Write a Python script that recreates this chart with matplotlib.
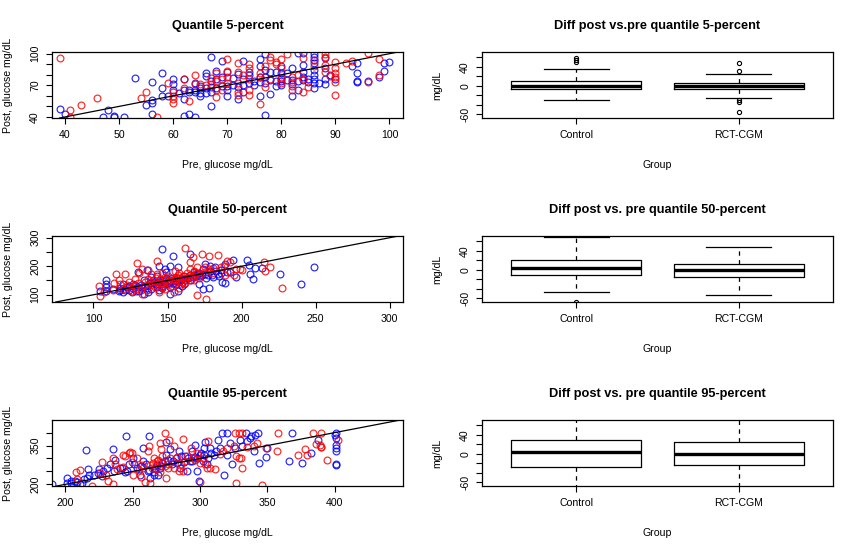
import matplotlib
matplotlib.use("Agg")
import matplotlib.pyplot as plt

plt.rcParams['font.family'] = ['Liberation Sans', 'DejaVu Sans']

# ---------------- data: quantile 5-percent ----------------
q05_red = [(39,96),(41,47),(41,40),(43,51),(46,58),(54,58),(55,64),(57,40),(59,72),(60,64),(60,60),(60,57),
           (60,53),(62,67),(62,76),(63,55),(64,80),(64,71),(65,71),(66,70),(67,77),(67,71),(68,74),(68,66),
           (68,59),(68,82),(69,66),(69,76),(70,95),(70,84),(70,78),(70,72),(72,91),(72,83),(72,72),(72,64),
           (72,61),(73,80),(74,90),(74,86),(74,76),(74,66),(74,61),(76,82),(76,78),(76,52),(77,88),(77,68),
           (78,97),(78,94),(78,76),(79,92),(79,90),(80,95),(80,86),(80,77),(80,72),(81,100),(82,78),(82,73),
           (82,69),(82,66),(83,80),(84,96),(84,76),(84,64),(85,68),(86,94),(86,88),(88,100),(88,97),(88,89),
           (88,83),(89,79),(90,92),(90,86),(90,82),(90,78),(90,73),(90,61),(92,91),(93,93),(96,101),(96,73),
           (98,95),(98,80)]
q05_blue = [(39,48),(40,43),(47,40),(48,47),(49,41),(49,40),(51,40),(53,77),(55,51),(56,56),(56,53),(56,73),
            (56,43),(58,82),(58,67),(58,60),(59,60),(60,76),(60,71),(60,66),(61,63),(62,76),(62,57),(62,41),
            (62,66),(63,43),(63,64),(63,66),(64,72),(64,64),(64,40),(64,66),(65,69),(65,60),(65,63),(65,67),
            (66,63),(66,82),(66,79),(66,67),(67,97),(67,74),(67,50),(67,68),(67,64),(68,76),(68,84),(68,67),
            (69,93),(69,78),(69,69),(70,83),(70,69),(70,60),(70,66),(71,77),(71,70),(72,81),(72,57),(72,68),
            (73,93),(73,76),(73,64),(73,70),(74,83),(74,80),(74,72),(75,70),(75,74),(76,95),(76,88),(76,73),
            (76,60),(76,78),(77,100),(77,85),(77,78),(77,72),(77,42),(78,83),(78,62),(78,75),(79,69),(79,83),
            (79,74),(80,88),(80,82),(80,76),(80,70),(80,74),(81,82),(81,75),(82,86),(82,60),(82,75),(82,71),
            (83,101),(83,66),(83,74),(84,101),(84,89),(84,83),(84,78),(84,75),(85,76),(85,73),(86,100),(86,97),
            (86,94),(86,91),(86,85),(86,80),(86,76),(86,67),(86,72),(87,72),(88,96),(88,76),(88,71),(88,86),
            (89,80),(90,76),(93,88),(94,91),(94,82),(94,73),(94,74),(96,74),(98,78),(99,84),(99,91),(100,92)]

# ---------------- data: quantile 50-percent ----------------
q50_red = [(103.6,130),(104.5,94),(107,109),(113,115),(115,173),(117,150),(121,173),(114,141),(129.7,210),
           (133,191),(137,187),(143,219),(143,173),(146,175),(162,264),(167,234),(170,98),(173,243),(176,84),
           (178,237),(184,241),(181,194),(186,196),(190,220),(199,191),(200,187),(215,214),(216,183),(219,197),
           (227,124),(128,156),(133,103),(148,162),(152,138),(154.5,109),(159,138),(165,214),(170,196),(172,173),
           (166,150),(160.5,167),(156,162),(150,167),(147,138),(141.6,127),(138,144),(134,132),(128,129),
           (122.5,133),(118,138),(120,120),(125,125),(130,140),(135,145),(140,150),(145,155),(150,150),(155,155),
           (160,160),(165,170),(170,175),(175,180),(140,135),(145,140),(150,145),(155,150),(160,145),(152,160),
           (157,170),(163,178),(168,185),(148,120),(158,125),(168,165),(178,190),(188,200),(192,215),(196,190),
           (142,160),(136,115),(126,112),(124,146),(132,118),(144,110),(162,152),(171,160),(175,198),(165,190),
           (131,176),(139,172),(155,182),(192,180),(195,170),(189,170),(146,128),(153,132),(158,148),(162,140),
           (137,156),(129,120),(142,146),(148,152),(164,162),(168,150),(158,178),(180,178)]
q50_blue = [(104.5,113),(108.5,150),(108.5,138),(108.5,127),(108.5,113),(117,113),(120,138),(130,179),(136,187),
            (146.5,259),(154,237),(165,243),(175,208),(178.5,202),(182,196),(189,208),(194,221),(204,221),(205,203),
            (209,194),(214,194),(206,173),(208,156),(196,162),(192,179),(188.7,142),(187,144),(178,124),(174,121),
            (171,138),(225.7,174),(240,138),(249,198),(134,103),(137,109),(144,115),(152,103),(157,113),(161,138),
            (165,150),(170,173),(174,191),(184,173),(185,167),(180.5,162),(157,196),(151.5,202),(149,179),
            (142.6,167),(139,162),(134,150),(127,138),(122.5,127),(118,117),(113.5,121),(118,125),(121,118),
            (124,130),(127,122),(130,128),(132,135),(135,130),(138,140),(140,145),(142,138),(145,150),(147,148),
            (149,155),(151,150),(153,158),(155,148),(157,160),(159,155),(161,165),(163,158),(165,170),(167,162),
            (169,165),(171,178),(173,170),(175,172),(177,168),(179,183),(183,185),(186,178),(190,180),(143,128),
            (146,132),(150,140),(154,142),(158,145),(162,150),(136,122),(131,114),(126,110),(160,130),(148,190),
            (144,200),(168,180),(128,134),(133,126),(137,134),(141,142),(144,144),(148,136),(152,146),(156,152),
            (160,156),(164,160),(168,170),(172,166),(139,120),(146,124),(152,128),(156,136),(120,110),(124,118),
            (129,112),(176,160),(180,170),(186,188)]

# ---------------- data: quantile 95-percent ----------------
q95_red = [(211,254),(227,286),(235.6,300),(237,277),(244,309),(247,322),(249.6,322),(257,274),(259,209),(261,328),
           (263,204),(270,249),(271,335),(273.6,399),(275,224),(277,373),(281,347),(287,377),(287,251),(293,341),
           (295,303),(304,277),(306,367),(307.5,264),(311,258),(317,328),(325,347),(326,399),(327,206),(327,309),
           (328.6,303),(330,303),(331,264),(331,399),(328.6,399),(342,360),(346,197),(349,341),(357,328),(358,399),
           (373,312),(378,335),(379,315),(384,399),(386,356),(389,351),(390,399),(390,344),(394,296),(402,373),
           (209,219),(208,247),(226,244),(230,238),(238,258),(243,267),(249.7,287),(253,300),(264,264),(265,283),
           (269,296),(276,277),(281,264),(284,251),(286,277),(290,309),(296,296),(300,283),(305,264),(219.6,194),
           (235.6,200),(248,325),(243,312),(266,300),(268,290),(272,310),(274,270),(278,300),(283,305),(289,290),
           (298,322),(302,300),(315,318),(320,342),(262,350),(256,230),(250,238),(232,214),(270,360),(300,210),
           (340,347),(335,345),(390,345),(258,262),(263,276),(267,260),(271,286),(276,262),(255,254)]
q95_blue = [(190,200),(201,226),(204,213),(207,213),(211,203),(215,331),(217,258),(217.3,238),(224,245),(225,258),
            (231,264),(233,277),(235.6,338),(237,296),(245,386),(247,277),(250,303),(250.6,277),(258,341),(262,386),
            (263,226),(266.7,264),(269,238),(275,364),(278,335),(280,290),(285,264),(289,309),(292.6,290),(296,354),
            (299.5,213),(301,322),(303,341),(304,364),(307,341),(313,373),(316,399),(318,238),(320,399),(324,277),
            (334,399),(338,386),(343,399),(344,283),(349,305),(350,341),(366,290),(368,399),(376,283),(382,322),
            (387.7,373),(401,399),(401,379),(401,354),(401,341),(401,328),(401,279),(401,273),(400,392),(201,206),
            (212,206),(216,226),(221,238),(228,251),(240.7,264),(245.7,251),(253,264),(255.6,238),(261,251),(266,238),
            (270,264),(273.6,290),(275,315),(283,283),(290,251),(294,328),(297.5,251),(300,315),(305,277),(310,315),
            (315,341),(320,315),(322,360),(329.6,373),(334.6,367),(337,379),(341,392),(209,210),(214,220),(227,232),
            (236,250),(242,262),(256,270),(260,280),(268,275),(272,282),(276,295),(282,300),(286,310),(291,300),
            (296,305),(303,312),(308,320),(312,330),(326,340),(331,350),(340,330),(306,300),(284,330),(258,290),
            (244,248),(204,205),(262,256),(266,248),(271,270),(279,278),(288,286),(294,292),(298,300),(302,290)]

# ---------------- data: boxplot summaries (post - pre) ----------------
groups = ["Control", "RCT-CGM"]
d05_q1 = [-7.6, -7.6]; d05_med = [0.0, -1.0]; d05_q3 = [10.4, 6.3]
d05_lo = [-31.0, -25.0]; d05_hi = [36.0, 25.7]
d05_fliers = [[58, 54, 50], [48, 32, -30, -35, -56]]

d50_q1 = [-11.0, -16.0]; d50_med = [3.5, -1.4]; d50_q3 = [20.0, 13.0]
d50_lo = [-47.0, -53.5]; d50_hi = [68.8, 48.6]
d50_fliers = [[-67], []]

d95_q1 = [-27.8, -23.6]; d95_med = [3.5, 0.0]; d95_q3 = [29.9, 24.3]
d95_lo = [-100.0, -95.0]; d95_hi = [100.0, 95.0]
d95_fliers = [[], []]

W, H = 859, 552
fig = plt.figure(figsize=(W/100, H/100), dpi=100)

def px_axes(x0, y0, x1, y1):
    return fig.add_axes([x0/W, 1 - y1/H, (x1-x0)/W, (y1-y0)/H])

FS = 7.6
TFS = 9.2

def style(ax, title, xlabel, ylabel):
    for s in ax.spines.values():
        s.set_linewidth(0.9)
        s.set_color('black')
    ax.tick_params(direction='out', length=4.0, width=0.8, pad=4.5, labelsize=FS, colors='black')
    for lab in ax.get_yticklabels():
        lab.set_rotation(90)
        lab.set_va('center')
    ax.annotate(title, xy=(0.5, 1), xycoords='axes fraction', xytext=(0, 19), textcoords='offset points',
                ha='center', va='center', fontsize=TFS, fontweight='bold')
    ax.annotate(xlabel, xy=(0.5, 0), xycoords='axes fraction', xytext=(0, -34), textcoords='offset points',
                ha='center', va='center', fontsize=FS)
    ax.annotate(ylabel, xy=(0, 0.5), xycoords='axes fraction', xytext=(-32, 0), textcoords='offset points',
                ha='center', va='center', fontsize=FS, rotation=90)

def scatter_panel(ax, red, blue, xlim, ylim, xticks, yticks, ylabels, title):
    bx = [p[0] for p in blue]; by = [p[1] for p in blue]
    rx = [p[0] for p in red]; ry = [p[1] for p in red]
    ax.plot(bx, by, 'o', mfc='none', mec='#0000FF', ms=4.9, mew=0.85, alpha=0.85)
    ax.plot(rx, ry, 'o', mfc='none', mec='#FF0000', ms=4.9, mew=0.85, alpha=0.85)
    ax.axline((0, 0), slope=1, color='black', lw=0.9)
    ax.set_xlim(*xlim); ax.set_ylim(*ylim)
    ax.set_xticks(xticks)
    ax.set_xticklabels([str(t) for t in xticks])
    ax.set_yticks(yticks)
    ax.set_yticklabels(ylabels)
    style(ax, title, "Pre, glucose mg/dL", "Post, glucose mg/dL")

def box_panel(ax, q1, med, q3, lo, hi, fliers, title):
    stats = []
    for i, g in enumerate(groups):
        stats.append(dict(label=g, q1=q1[i], med=med[i], q3=q3[i], whislo=lo[i], whishi=hi[i], fliers=fliers[i]))
    ax.bxp(stats, positions=[1, 2], widths=0.8, showfliers=True, capwidths=0.4,
           boxprops=dict(color='black', lw=0.9),
           medianprops=dict(color='black', lw=2.4, solid_capstyle='butt'),
           whiskerprops=dict(color='black', lw=0.9, linestyle=(0, (3.5, 3.5))),
           capprops=dict(color='black', lw=0.9),
           flierprops=dict(marker='o', mfc='none', mec='black', ms=3.0, mew=0.8))
    ax.set_xlim(0.42, 2.58)
    ax.set_ylim(-68, 71)
    ax.set_xticks([1, 2])
    ax.set_xticklabels(groups)
    ax.set_yticks([-60, -40, -20, 0, 20, 40, 60])
    ax.set_yticklabels(['-60', '', '', '0', '', '40', ''])
    style(ax, title, "Group", "mg/dL")

rows = [(52, 118), (236, 302), (420, 486)]

ax = px_axes(52, rows[0][0], 403, rows[0][1])
scatter_panel(ax, q05_red, q05_blue, (37.6, 102.5), (39, 101.6), [40, 50, 60, 70, 80, 90, 100],
              [40, 50, 60, 70, 80, 90, 100], ['40', '', '', '70', '', '', '100'], "Quantile 5-percent")
ax = px_axes(52, rows[1][0], 403, rows[1][1])
scatter_panel(ax, q50_red, q50_blue, (72, 309), (74.6, 306), [100, 150, 200, 250, 300],
              [100, 150, 200, 250, 300], ['100', '', '200', '', '300'], "Quantile 50-percent")
ax = px_axes(52, rows[2][0], 403, rows[2][1])
scatter_panel(ax, q95_red, q95_blue, (190.1, 450.6), (193.6, 448.7), [200, 250, 300, 350, 400],
              [200, 250, 300, 350, 400], ['200', '', '', '350', ''], "Quantile 95-percent")

ax = px_axes(482, rows[0][0], 833, rows[0][1])
box_panel(ax, d05_q1, d05_med, d05_q3, d05_lo, d05_hi, d05_fliers, "Diff post vs.pre quantile 5-percent")
ax = px_axes(482, rows[1][0], 833, rows[1][1])
box_panel(ax, d50_q1, d50_med, d50_q3, d50_lo, d50_hi, d50_fliers, "Diff post vs. pre quantile 50-percent")
ax = px_axes(482, rows[2][0], 833, rows[2][1])
box_panel(ax, d95_q1, d95_med, d95_q3, d95_lo, d95_hi, d95_fliers, "Diff post vs. pre quantile 95-percent")

fig.savefig("out.png", dpi=100)
